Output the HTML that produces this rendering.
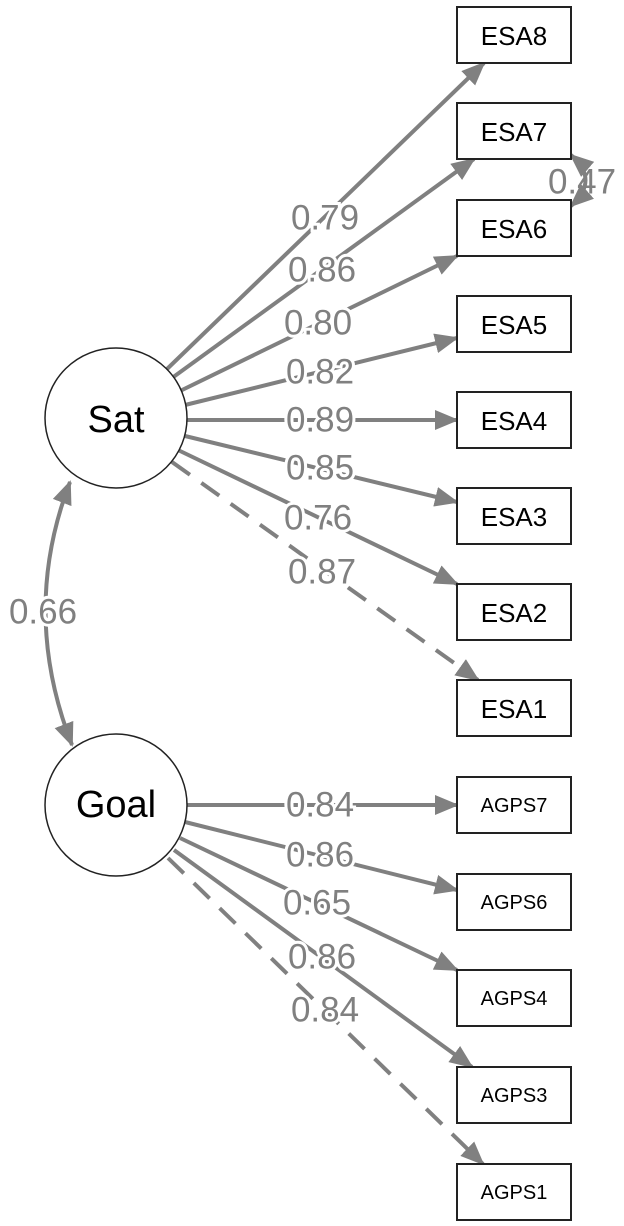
<!DOCTYPE html>
<html><head><meta charset="utf-8"><style>
html,body{margin:0;padding:0;background:#fff;}
svg{display:block;}
text{font-family:"Liberation Sans",Arial,sans-serif;}
.lb{fill:#808080;font-size:35px;text-anchor:middle;dominant-baseline:central;stroke:#fff;stroke-width:6px;paint-order:stroke;}
.bx{fill:#fff;stroke:#222;stroke-width:2;}
.bt{font-size:26px;fill:#000;text-anchor:middle;dominant-baseline:central;}
.at{font-size:20px;fill:#000;text-anchor:middle;dominant-baseline:central;}
.e{stroke:#808080;stroke-width:4;fill:none;marker-end:url(#ah);}
</style></head><body>
<svg width="624" height="1226" viewBox="0 0 624 1226" xmlns="http://www.w3.org/2000/svg">
<defs>
<marker id="ah" markerWidth="6" markerHeight="5" refX="5.5" refY="2.5" orient="auto" markerUnits="strokeWidth">
<path d="M0,0 L6,2.5 L0,5 z" fill="#808080"/></marker>
<marker id="as" markerWidth="6" markerHeight="5" refX="0.5" refY="2.5" orient="auto" markerUnits="strokeWidth">
<path d="M6,0 L0,2.5 L6,5 z" fill="#808080"/></marker>
</defs>
<!-- Sat edges -->
<line class="e" x1="166" y1="370" x2="484" y2="63"/>
<line class="e" x1="172" y1="378" x2="474" y2="159"/>
<line class="e" x1="178" y1="392" x2="457" y2="256"/>
<line class="e" x1="185" y1="405" x2="457" y2="338"/>
<line class="e" x1="186" y1="420" x2="457" y2="420"/>
<line class="e" x1="185" y1="436" x2="457" y2="502"/>
<line class="e" x1="178" y1="450" x2="457" y2="584"/>
<line class="e" x1="172" y1="462" x2="478" y2="680" stroke-dasharray="22,14"/>
<!-- Goal edges -->
<line class="e" x1="186" y1="805" x2="457" y2="805"/>
<line class="e" x1="185" y1="822" x2="457" y2="890"/>
<line class="e" x1="180" y1="838" x2="457" y2="970"/>
<line class="e" x1="174" y1="850" x2="472" y2="1067"/>
<line class="e" x1="168" y1="858" x2="483" y2="1164" stroke-dasharray="22,14"/>
<!-- covariance -->
<path d="M70,482 Q20,612 72,745" stroke="#808080" stroke-width="4" fill="none" marker-start="url(#as)" marker-end="url(#ah)"/>
<path d="M571,155 Q600,180 571,206" stroke="#808080" stroke-width="4" fill="none" marker-start="url(#as)" marker-end="url(#ah)"/>
<!-- circles -->
<ellipse cx="116" cy="418" rx="71" ry="70" fill="#fff" stroke="#222" stroke-width="1.5"/>
<text x="116" y="420" font-size="38" text-anchor="middle" dominant-baseline="central">Sat</text>
<ellipse cx="116" cy="805" rx="71" ry="71" fill="#fff" stroke="#222" stroke-width="1.5"/>
<text x="116" y="805" font-size="38" text-anchor="middle" dominant-baseline="central">Goal</text>
<!-- boxes -->
<rect class="bx" x="457" y="7" width="114" height="56"/><text class="bt" x="514" y="36">ESA8</text>
<rect class="bx" x="457" y="103" width="114" height="56"/><text class="bt" x="514" y="132">ESA7</text>
<rect class="bx" x="457" y="200" width="114" height="56"/><text class="bt" x="514" y="229">ESA6</text>
<rect class="bx" x="457" y="296" width="114" height="56"/><text class="bt" x="514" y="325">ESA5</text>
<rect class="bx" x="457" y="392" width="114" height="56"/><text class="bt" x="514" y="421">ESA4</text>
<rect class="bx" x="457" y="488" width="114" height="56"/><text class="bt" x="514" y="517">ESA3</text>
<rect class="bx" x="457" y="584" width="114" height="56"/><text class="bt" x="514" y="613">ESA2</text>
<rect class="bx" x="457" y="680" width="114" height="56"/><text class="bt" x="514" y="709">ESA1</text>
<rect class="bx" x="457" y="777" width="114" height="56"/><text class="at" x="514" y="806">AGPS7</text>
<rect class="bx" x="457" y="874" width="114" height="56"/><text class="at" x="514" y="903">AGPS6</text>
<rect class="bx" x="457" y="970" width="114" height="56"/><text class="at" x="514" y="999">AGPS4</text>
<rect class="bx" x="457" y="1067" width="114" height="56"/><text class="at" x="514" y="1096">AGPS3</text>
<rect class="bx" x="457" y="1164" width="114" height="56"/><text class="at" x="514" y="1193">AGPS1</text>
<!-- labels -->
<text class="lb" x="325" y="218">0.79</text>
<text class="lb" x="322" y="270">0.86</text>
<text class="lb" x="318" y="323">0.80</text>
<text class="lb" x="320" y="372">0.82</text>
<text class="lb" x="320" y="420">0.89</text>
<text class="lb" x="320" y="468">0.85</text>
<text class="lb" x="318" y="518">0.76</text>
<text class="lb" x="322" y="572">0.87</text>
<text class="lb" x="320" y="805">0.84</text>
<text class="lb" x="320" y="855">0.86</text>
<text class="lb" x="317" y="903">0.65</text>
<text class="lb" x="322" y="957">0.86</text>
<text class="lb" x="325" y="1010">0.84</text>
<text class="lb" x="43" y="612">0.66</text>
<text class="lb" x="582" y="182" style="stroke-width:0">0.47</text>
</svg>
</body></html>
